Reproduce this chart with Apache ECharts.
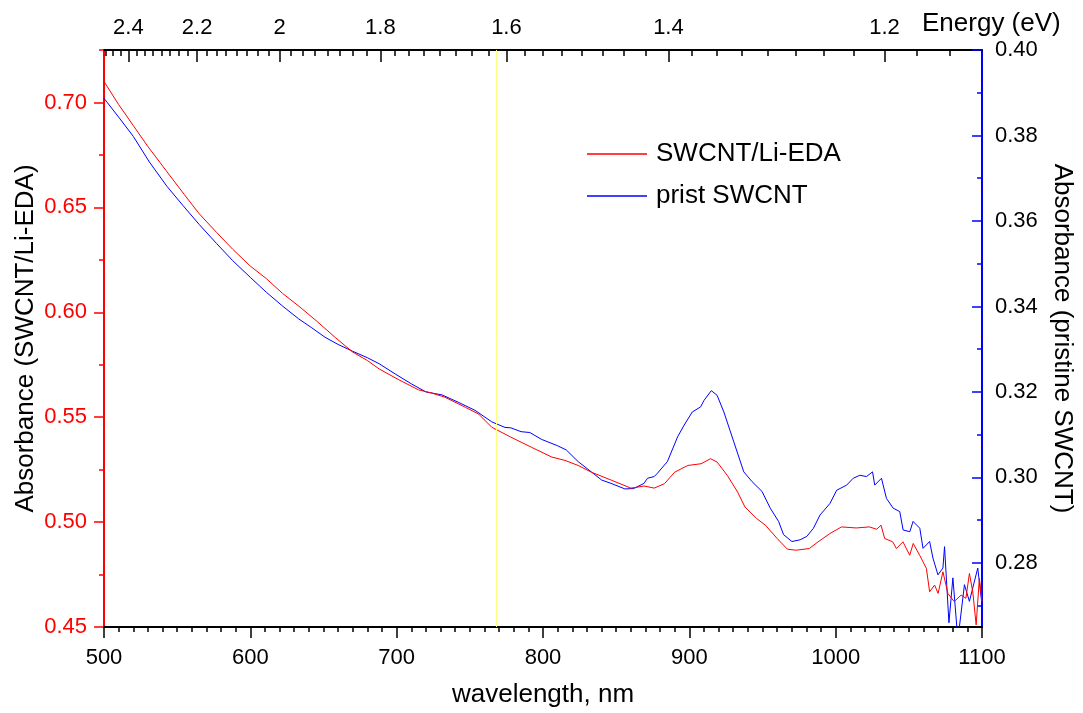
<!DOCTYPE html>
<html>
<head>
<meta charset="utf-8">
<script src="https://cdn.jsdelivr.net/npm/echarts@6/dist/echarts.min.js"></script>
<style>
html,body{margin:0;padding:0;background:#fff;}
#chart{width:1083px;height:713px;}
</style>
</head>
<body>
<div id="chart"></div>
<script>
// ---- data ----
const redWavelength = [500,510,520,530,543,555,565,577,588,600,611,622,633,645,658,670,680,688,701,715,724,733,747,756,765,778,792,806,815,824,833,847,860,865,869,876,883,890,899,908,914.5,919,926,933,938,946,952,960,967,973,982,988,996,1004,1014,1023,1028,1031,1033.5,1039,1041.5,1046,1050.6,1053,1057.4,1062,1064.2,1067.6,1070,1073.3,1076.7,1081,1085.7,1089,1091.4,1093.7,1096,1098.2,1100];
const redAbsorbance = [0.710,0.699,0.689,0.679,0.667,0.656,0.647,0.638,0.630,0.622,0.616,0.609,0.603,0.596,0.588,0.581,0.577,0.573,0.568,0.563,0.5615,0.5595,0.5547,0.5515,0.5452,0.5405,0.5357,0.531,0.5294,0.527,0.5238,0.5199,0.5162,0.5167,0.5172,0.5162,0.5183,0.5238,0.527,0.5278,0.5302,0.5286,0.5222,0.5143,0.5072,0.5017,0.4985,0.4922,0.4871,0.4866,0.4874,0.4906,0.4945,0.4977,0.4972,0.4977,0.4966,0.4985,0.4922,0.4906,0.4874,0.4906,0.4842,0.4898,0.4842,0.4779,0.4668,0.470,0.466,0.4763,0.466,0.4621,0.4652,0.4637,0.4755,0.4668,0.451,0.4732,0.4621];

const blueWavelength = [500,510,520,531,543,554,565,577,588,600,611,622,633,642,651,660,670,680,688,699,710,720,731,742,753.5,765,774,778,785,791,799,810,816,824,833,840,846.5,856,862,869,871.4,876,878,883,885,892,896.4,902,907.7,910,915,919,923.6,930.4,937.2,942.9,949.7,955.3,961,964.4,970.1,975.7,980.3,984.8,989.3,996.1,1000.7,1007.5,1012,1016.5,1021.1,1025.2,1026.7,1031.3,1034.7,1039.3,1043.8,1046.1,1050.7,1052.9,1057.5,1059.7,1064.2,1066.5,1069.9,1073.3,1074.4,1077.4,1080.1,1083.5,1088,1091.4,1097.1,1100];
const blueAbsorbance = [0.3887,0.3843,0.3798,0.3738,0.3681,0.3636,0.3592,0.3547,0.3507,0.3468,0.3433,0.3401,0.3371,0.3350,0.3328,0.3311,0.3295,0.3280,0.3266,0.3242,0.3219,0.3200,0.3193,0.3176,0.3157,0.3130,0.3117,0.3116,0.3107,0.3105,0.3089,0.3074,0.3064,0.3037,0.3013,0.2994,0.2986,0.2973,0.2974,0.2986,0.2998,0.3002,0.3009,0.3029,0.3037,0.3095,0.3122,0.3153,0.3165,0.3180,0.3203,0.3192,0.3153,0.3083,0.3013,0.2990,0.2967,0.2928,0.2897,0.2866,0.2850,0.2854,0.2862,0.2881,0.2912,0.2939,0.2970,0.2982,0.2998,0.3005,0.3002,0.3013,0.2982,0.2998,0.2951,0.2928,0.2920,0.2877,0.2873,0.2897,0.2881,0.2834,0.2850,0.2811,0.2772,0.2788,0.2838,0.2660,0.2765,0.2620,0.2749,0.2710,0.2788,0.2702];

const seriesNames = ['SWCNT/Li-EDA', 'prist SWCNT'];
const energyLabels = [2.4, 2.2, 2.0, 1.8, 1.6, 1.4, 1.2];     // top axis (eV)
const energyMinor = [2.475,2.45,2.425,2.375,2.35,2.325,2.3,2.275,2.25,2.225,2.175,2.15,2.125,2.1,2.075,2.05,2.025,1.975,1.95,1.925,1.9,1.875,1.85,1.825,1.775,1.75,1.725,1.7,1.675,1.65,1.625,1.575,1.55,1.525,1.5,1.475,1.45,1.425,1.375,1.35,1.325,1.3,1.275,1.25,1.225,1.175,1.15];
const leftTicks = [0.45, 0.50, 0.55, 0.60, 0.65, 0.70];
const leftMinor = [0.475, 0.525, 0.575, 0.625, 0.675, 0.725];
const rightTicks = [0.28, 0.30, 0.32, 0.34, 0.36, 0.38, 0.40];
const rightMinor = [0.27, 0.29, 0.31, 0.33, 0.35, 0.37, 0.39];
const markerWavelength = 768;

const HC = 1240; // nm·eV
const FONT = "'Liberation Sans', Arial, sans-serif";

const zip = (xs, ys) => xs.map((x, i) => [x, ys[i]]);

const chart = echarts.init(document.getElementById('chart'), null, {renderer: 'canvas'});
const tickTxt = {fontFamily: FONT, fontSize: 22, color: '#000'};

chart.setOption({
  animation: false,
  backgroundColor: '#fff',
  textStyle: {fontFamily: FONT},
  grid: {left: 104, right: 96, top: 50, bottom: 84, containLabel: false},
  legend: {
    data: seriesNames.map(n => ({name: n, icon: 'rect'})),
    orient: 'vertical',
    left: 582,
    top: 136,
    itemWidth: 60,
    itemHeight: 1.5,
    itemGap: 16,
    textStyle: {fontFamily: FONT, fontSize: 26, color: '#000', padding: [0, 0, 0, 4]}
  },
  xAxis: [
    {
      type: 'value', position: 'bottom', min: 500, max: 1100, interval: 100,
      axisLine: {onZero: false, lineStyle: {color: '#000', width: 2}},
      axisTick: {length: 11, lineStyle: {color: '#000', width: 1.5}},
      minorTick: {show: true, splitNumber: 10, length: 5, lineStyle: {color: '#000', width: 1.5}},
      axisLabel: Object.assign({margin: 20, formatter: v => String(v)}, tickTxt),
      splitLine: {show: false}, minorSplitLine: {show: false},
      name: 'wavelength, nm', nameLocation: 'middle', nameGap: 55, nameMoveOverlap: false,
      nameTextStyle: {fontFamily: FONT, fontSize: 26, color: '#000'}
    },
    {
      type: 'value', position: 'top', min: 500, max: 1100,
      axisLine: {onZero: false, lineStyle: {color: '#000', width: 2}},
      axisTick: {inside: true, length: 12, lineStyle: {color: '#000', width: 1.5},
                 customValues: energyLabels.map(e => HC / e)},
      axisLabel: Object.assign({margin: 11, customValues: energyLabels.map(e => HC / e),
                 formatter: v => String(Math.round(HC / v * 10) / 10)}, tickTxt),
      splitLine: {show: false},
      name: 'Energy (eV)', nameLocation: 'end', nameGap: -60, nameMoveOverlap: false,
      nameTextStyle: {fontFamily: FONT, fontSize: 26, color: '#000', align: 'left', verticalAlign: 'bottom', padding: [0, 0, 13, 0]}
    },
    {
      type: 'value', position: 'top', min: 500, max: 1100,
      axisLine: {show: false},
      axisTick: {inside: true, length: 6, lineStyle: {color: '#000', width: 1.5},
                 customValues: energyMinor.map(e => HC / e)},
      axisLabel: {show: false}, splitLine: {show: false}
    }
  ],
  yAxis: [
    {
      type: 'value', position: 'left', min: 0.45, max: 0.725,
      axisLine: {show: true, onZero: false, lineStyle: {color: '#ff0000', width: 2}},
      axisTick: {show: true, length: 10, lineStyle: {color: '#ff0000', width: 1.5}, customValues: leftTicks},
      axisLabel: {customValues: leftTicks, formatter: v => v.toFixed(2), margin: 17,
                  fontFamily: FONT, fontSize: 22, color: '#ff0000'},
      splitLine: {show: false},
      name: 'Absorbance (SWCNT/Li-EDA)', nameLocation: 'middle', nameRotate: 90, nameGap: 65, nameMoveOverlap: false,
      nameTextStyle: {fontFamily: FONT, fontSize: 26, color: '#000'}
    },
    {
      type: 'value', position: 'right', min: 0.265, max: 0.40,
      axisLine: {show: true, onZero: false, lineStyle: {color: '#0000ff', width: 2}},
      axisTick: {show: true, inside: true, length: 10, lineStyle: {color: '#0000ff', width: 1.5}, customValues: rightTicks},
      axisLabel: {customValues: rightTicks, formatter: v => v.toFixed(2), margin: 13,
                  fontFamily: FONT, fontSize: 22, color: '#000'},
      splitLine: {show: false},
      name: 'Absorbance (pristine SWCNT)', nameLocation: 'middle', nameRotate: -90, nameGap: 67, nameMoveOverlap: false,
      nameTextStyle: {fontFamily: FONT, fontSize: 26, color: '#000'}
    },
    {
      type: 'value', position: 'left', min: 0.45, max: 0.725,
      axisLine: {show: false},
      axisTick: {show: true, length: 5, lineStyle: {color: '#ff0000', width: 1.5}, customValues: leftMinor},
      axisLabel: {show: false}, splitLine: {show: false}
    },
    {
      type: 'value', position: 'right', min: 0.265, max: 0.40,
      axisLine: {show: false},
      axisTick: {show: true, inside: true, length: 5, lineStyle: {color: '#0000ff', width: 1.5}, customValues: rightMinor},
      axisLabel: {show: false}, splitLine: {show: false}
    }
  ],
  series: [
    {
      name: seriesNames[0], type: 'line', xAxisIndex: 0, yAxisIndex: 0,
      data: zip(redWavelength, redAbsorbance),
      showSymbol: false, symbol: 'none', clip: true,
      lineStyle: {color: '#ff0000', width: 1}, itemStyle: {color: '#ff0000'},
      markLine: {
        silent: true, symbol: 'none', label: {show: false},
        lineStyle: {color: '#ffff80', width: 1, type: 'solid'},
        data: [{xAxis: markerWavelength}]
      },
      z: 3
    },
    {
      name: seriesNames[1], type: 'line', xAxisIndex: 0, yAxisIndex: 1,
      data: zip(blueWavelength, blueAbsorbance),
      showSymbol: false, symbol: 'none', clip: true,
      lineStyle: {color: '#0000ff', width: 1}, itemStyle: {color: '#0000ff'},
      z: 2
    }
  ]
});
</script>
</body>
</html>
